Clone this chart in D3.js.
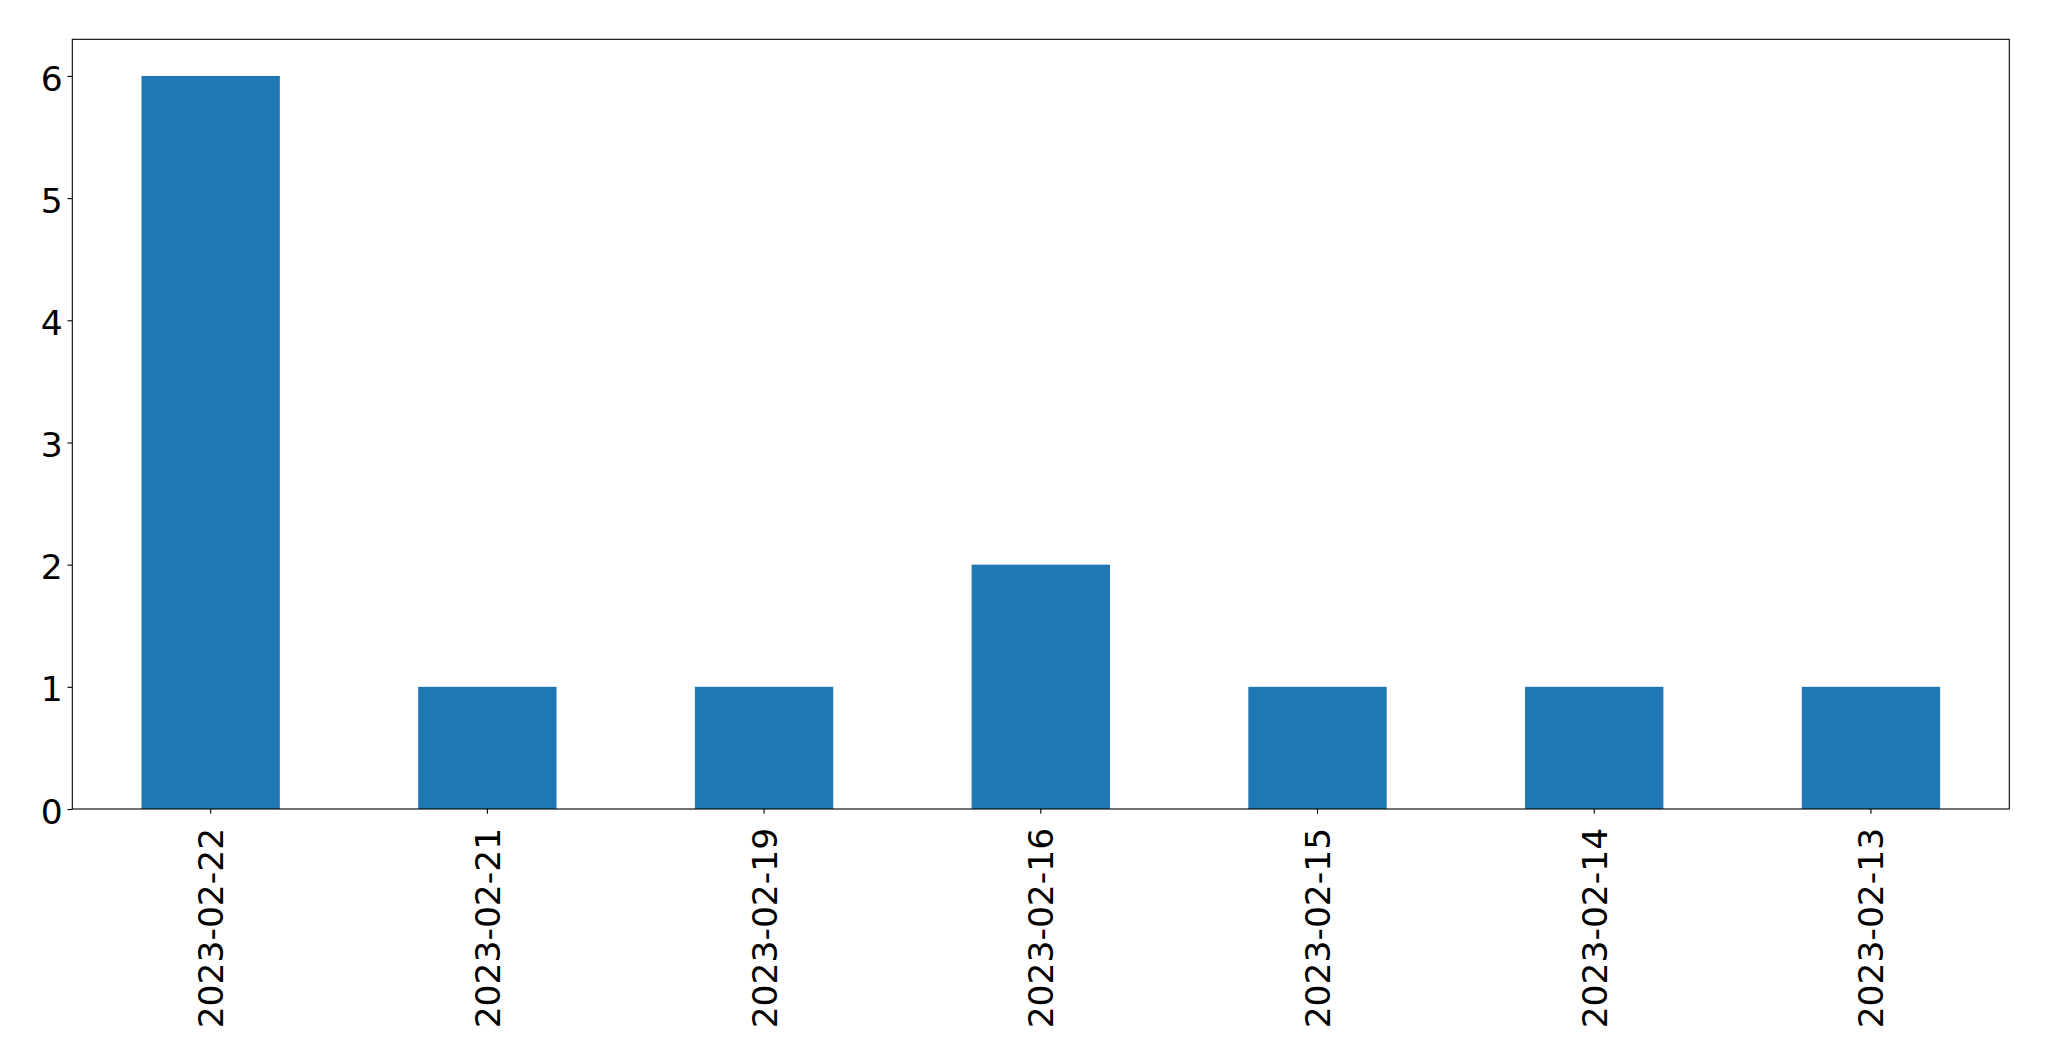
<!DOCTYPE html>
<html>
<head>
<meta charset="utf-8">
<script src="https://cdn.jsdelivr.net/npm/d3@7"></script>
<style>
  html, body { margin: 0; padding: 0; background: #fff; }
  svg { display: block; }
</style>
</head>
<body>
<svg id="chart" width="2049" height="1061"></svg>
<script>
const categories = ["2023-02-22", "2023-02-21", "2023-02-19", "2023-02-16", "2023-02-15", "2023-02-14", "2023-02-13"];
const values = [6, 1, 1, 2, 1, 1, 1];
const yTicks = [0, 1, 2, 3, 4, 5, 6];

(function () {
const plotLeft = 72.3, plotRight = 2009.3, plotTop = 39.3, plotBottom = 809;
const fontSize = 34.5;
const tickLen = 4.86, pad = 4.86;

const svg = d3.select("#chart");

const x = d3.scaleBand()
  .domain(categories)
  .range([plotLeft, plotRight])
  .paddingInner(0.5)
  .paddingOuter(0.25);

const y = d3.scaleLinear()
  .domain([0, d3.max(values) * 1.05])
  .range([plotBottom, plotTop]);

// bars
svg.append("g")
  .selectAll("rect")
  .data(values)
  .join("rect")
  .attr("x", (d, i) => x(categories[i]))
  .attr("width", x.bandwidth())
  .attr("y", d => y(d))
  .attr("height", d => y(0) - y(d))
  .attr("fill", "#1f77b4");

// y axis
const yAxis = svg.append("g")
  .attr("transform", `translate(${plotLeft},0)`)
  .call(d3.axisLeft(y).tickValues(yTicks).tickFormat(d3.format("d")).tickSize(tickLen).tickPadding(pad));
yAxis.select(".domain").remove();
yAxis.selectAll(".tick line").attr("stroke", "#000").attr("stroke-width", 1.1);
yAxis.selectAll(".tick text")
  .attr("font-family", "DejaVu Sans")
  .attr("font-size", fontSize)
  .attr("fill", "#000")
  .attr("dy", "0.41em");

// x axis
const xAxis = svg.append("g")
  .attr("transform", `translate(0,${plotBottom})`)
  .call(d3.axisBottom(x).tickSize(tickLen).tickPadding(pad));
xAxis.select(".domain").remove();
xAxis.selectAll(".tick line").attr("stroke", "#000").attr("stroke-width", 1.1);
xAxis.selectAll(".tick text")
  .attr("font-family", "DejaVu Sans")
  .attr("font-size", fontSize)
  .attr("fill", "#000")
  .attr("text-anchor", "end")
  .attr("transform", "rotate(-90)")
  .attr("x", -(tickLen + 14))
  .attr("y", 0)
  .attr("dy", "0.36em");

// frame
svg.append("rect")
  .attr("x", plotLeft)
  .attr("y", plotTop)
  .attr("width", plotRight - plotLeft)
  .attr("height", plotBottom - plotTop)
  .attr("fill", "none")
  .attr("stroke", "#000")
  .attr("stroke-width", 1.1);
})();
</script>
</body>
</html>
